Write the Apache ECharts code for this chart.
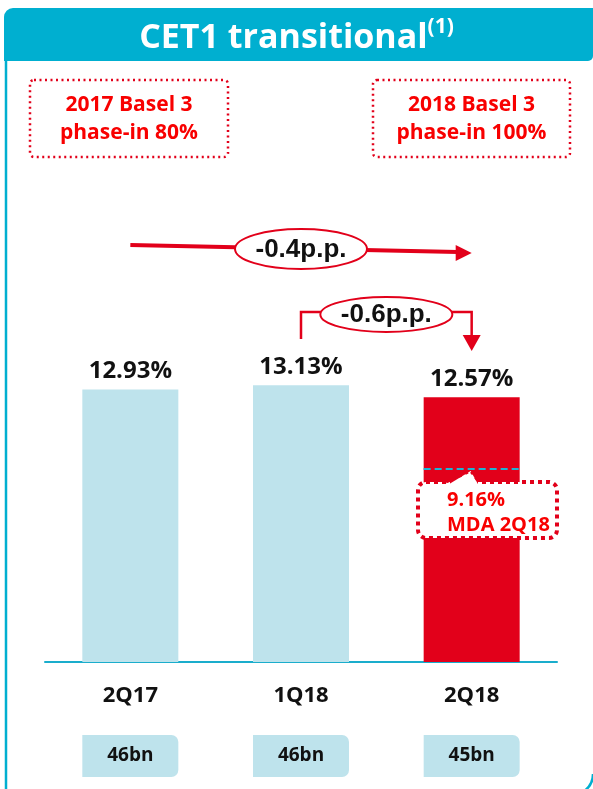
<!DOCTYPE html>
<html>
<head>
<meta charset="utf-8">
<style>
html,body{margin:0;padding:0;background:#fff;}
#chart{width:593px;height:789px;}
</style>
<script src="https://cdn.jsdelivr.net/npm/echarts@6/dist/echarts.min.js"></script>
</head>
<body>
<div id="chart"></div>
<script>
// ---- data ----
var categories = ['2Q17', '1Q18', '2Q18'];
var cet1Values = [12.93, 13.13, 12.57];
var capitalBn = ['46bn', '46bn', '45bn'];
var mdaValue = 9.16;
var mdaLabel = 'MDA 2Q18';
var titleText = 'CET1 transitional';
var titleNote = '(1)';
var noteLeft = ['2017 Basel 3', 'phase-in 80%'];
var noteRight = ['2018 Basel 3', 'phase-in 100%'];
var changeLong = '-0.4p.p.';
var changeShort = '-0.6p.p.';

var TEAL = '#00afd0';
var LIGHT = '#bee3ec';
var RED = '#e2001a';
var TXTRED = '#f80000';
var FONT = '"Open Sans", "Noto Sans", sans-serif';
var ARIAL = '"Liberation Sans", Arial, sans-serif';

var chart = echarts.init(document.getElementById('chart'), null, {renderer: 'canvas'});

var option = {
  animation: false,
  title: {
    text: '{a|' + titleText + '}{s|' + titleNote + '}',
    left: 'center',
    top: 12,
    textStyle: {
      rich: {
        a: {fontSize: 34, color: '#fff', fontFamily: FONT, fontWeight: 'bold', lineHeight: 42},
        s: {fontSize: 21, color: '#fff', fontFamily: FONT, fontWeight: 'bold', verticalAlign: 'top', lineHeight: 42, padding: [0, 0, 18, 0]}
      }
    }
  },
  grid: {left: 45, right: 36, top: 367, bottom: 127, containLabel: false},
  xAxis: [{
    type: 'category',
    data: categories,
    axisLine: {lineStyle: {color: '#1aadcc', width: 2}},
    axisTick: {show: false},
    axisLabel: {margin: 23, fontSize: 22, fontWeight: 'bold', color: '#111', fontFamily: FONT}
  }, {
    type: 'category',
    position: 'bottom',
    data: capitalBn,
    axisLine: {show: false},
    axisTick: {show: false},
    axisLabel: {
      margin: 73, fontSize: 19, fontWeight: 'bold', color: '#111', fontFamily: FONT,
      backgroundColor: LIGHT, width: 96, height: 42, lineHeight: 42, align: 'center',
      borderRadius: [0, 7, 7, 0]
    }
  }],
  yAxis: {type: 'value', min: 0, max: 14, show: false, splitLine: {show: false}},
  series: [{
    type: 'bar',
    data: cet1Values.map(function (v, i) {
      return {value: v, itemStyle: {color: i === cet1Values.length - 1 ? RED : LIGHT}};
    }),
    barWidth: 96,
    label: {
      show: true, position: 'top', distance: 6,
      formatter: function (p) { return p.value.toFixed(2) + '%'; },
      fontSize: 24, fontWeight: 'bold', color: '#111', fontFamily: FONT
    }
  }]
};
chart.setOption(option);

// ---- annotations positioned through the chart's scales ----
var xs = categories.map(function (c) { return chart.convertToPixel({xAxisIndex: 0}, c); });
var yMda = chart.convertToPixel({yAxisIndex: 0}, mdaValue);
var half = 48;

var g = [];
// banner
g.push({type: 'rect', z: -1, shape: {x: 4, y: 8, width: 589, height: 53, r: [9, 0, 5, 0]}, style: {fill: TEAL}});
// left frame line
g.push({type: 'line', shape: {x1: 6, y1: 61, x2: 6, y2: 789}, style: {stroke: TEAL, lineWidth: 2.5}});
// bottom right corner
g.push({type: 'arc', shape: {cx: 572, cy: 774, r: 21, startAngle: 0, endAngle: 0.9}, style: {stroke: TEAL, lineWidth: 2.5, fill: null}});

// dotted note boxes
function noteBox(x, y, w, h, lines) {
  g.push({type: 'rect', shape: {x: x, y: y, width: w, height: h, r: 4},
    style: {fill: null, stroke: RED, lineWidth: 2.5, lineDash: [2, 3.5]}});
  g.push({type: 'text', x: x + w / 2, y: y + h / 2 + 1,
    style: {text: lines.join('\n'), fill: TXTRED, font: 'bold 21px ' + FONT, align: 'center', verticalAlign: 'middle', lineHeight: 28}});
}
noteBox(30, 80, 198, 77, noteLeft);
noteBox(373, 80, 197, 77, noteRight);

// long arrow 2Q17 -> 2Q18
var ax0 = xs[0], ax2 = xs[2];
g.push({type: 'polyline', shape: {points: [[ax0, 245], [ax2 - 14, 252]]}, style: {stroke: RED, lineWidth: 4}});
g.push({type: 'polygon', shape: {points: [[ax2 - 16, 245], [ax2, 253], [ax2 - 16, 261]]}, style: {fill: RED}});
g.push({type: 'ellipse', shape: {cx: xs[1], cy: 249, rx: 66, ry: 20}, style: {fill: '#fff', stroke: RED, lineWidth: 2}});
g.push({type: 'text', x: xs[1], y: 250, style: {text: changeLong, fill: '#111', font: 'bold 26px ' + ARIAL, align: 'center', verticalAlign: 'middle'}});

// elbow connector 1Q18 -> 2Q18
var cx = (xs[1] + xs[2]) / 2;
g.push({type: 'polyline', shape: {points: [[xs[1], 339], [xs[1], 312], [xs[2], 312], [xs[2], 337]]}, style: {stroke: RED, lineWidth: 2.5}});
g.push({type: 'polygon', shape: {points: [[xs[2] - 9, 335], [xs[2], 351], [xs[2] + 9, 335]]}, style: {fill: RED}});
g.push({type: 'ellipse', shape: {cx: cx, cy: 314.5, rx: 66, ry: 17.5}, style: {fill: '#fff', stroke: RED, lineWidth: 2}});
g.push({type: 'text', x: cx, y: 315, style: {text: changeShort, fill: '#111', font: 'bold 26px ' + ARIAL, align: 'center', verticalAlign: 'middle'}});

// MDA dashed line on the 2Q18 bar
g.push({type: 'line', z: 10, shape: {x1: xs[2] - half, y1: yMda, x2: xs[2] + half + 2, y2: yMda}, style: {stroke: '#1fb3d4', lineWidth: 2, lineDash: [7, 4]}});

// callout
var bx = 418, by = 482, bw = 139, bh = 56;
g.push({type: 'rect', z: 11, shape: {x: bx, y: by, width: bw, height: bh, r: 8}, style: {fill: '#fff', stroke: RED, lineWidth: 4, lineDash: [4, 4]}});
g.push({type: 'polygon', z: 12, shape: {points: [[446, by + 4], [xs[2] - 1, yMda + 2], [479, by + 4]]}, style: {fill: '#fff'}});
g.push({type: 'polyline', z: 12, shape: {points: [[446, by], [xs[2] - 1, yMda + 2], [479, by]]}, style: {stroke: RED, lineWidth: 3, lineDash: [3, 4], fill: null}});
g.push({type: 'text', z: 13, x: 447, y: 500, style: {text: mdaValue.toFixed(2) + '%', fill: TXTRED, font: 'bold 20px ' + FONT, align: 'left', verticalAlign: 'middle'}});
g.push({type: 'text', z: 13, x: 447, y: 525, style: {text: mdaLabel, fill: TXTRED, font: 'bold 20px ' + FONT, align: 'left', verticalAlign: 'middle'}});

chart.setOption({graphic: {elements: g}});
</script>
</body>
</html>
